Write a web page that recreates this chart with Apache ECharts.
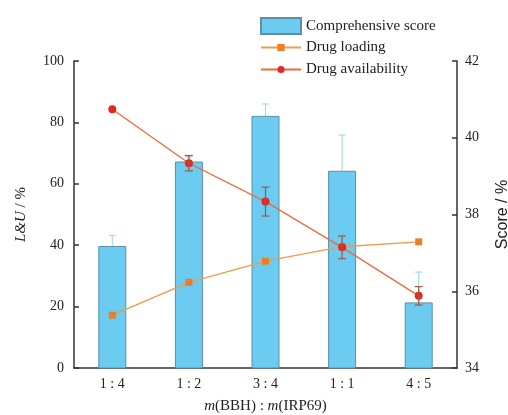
<!DOCTYPE html>
<html><head><meta charset="utf-8">
<script src="https://cdn.jsdelivr.net/npm/echarts@6/dist/echarts.min.js"></script>
<style>html,body{margin:0;padding:0;background:#fff}#c{width:508px;height:415px}</style>
</head><body><div id="c"></div>
<script>
const categories = ['1 : 4', '1 : 2', '3 : 4', '1 : 1', '4 : 5'];
const scoreValues = [37.18, 39.38, 40.57, 39.14, 35.71];
const scoreErrUp = [0.27, 0.12, 0.31, 0.93, 0.79];
const loadingValues = [17.2, 27.9, 34.8, 39.5, 41.1];
const availabilityValues = [84.3, 66.7, 54.2, 39.3, 23.5];
const availabilityErr = [0, 2.5, 4.7, 3.7, 3.0];
const leftTicks = [0, 20, 40, 60, 80, 100];
const rightTicks = [34, 36, 38, 40, 42];

const serif = '"Liberation Serif", "DejaVu Serif", serif';
const chart = echarts.init(document.getElementById('c'));

function errItem(color, capW, upOnly) {
  return function (params, api) {
    const x = api.value(0);
    const lo = api.value(1), hi = api.value(2);
    const pHi = api.coord([x, hi]);
    const pLo = api.coord([x, lo]);
    const st = { stroke: color, lineWidth: 1.2 };
    const children = [
      { type: 'line', shape: { x1: pHi[0], y1: pHi[1], x2: pLo[0], y2: pLo[1] }, style: st },
      { type: 'line', shape: { x1: pHi[0] - capW / 2, y1: pHi[1], x2: pHi[0] + capW / 2, y2: pHi[1] }, style: st }
    ];
    if (!upOnly) children.push({ type: 'line', shape: { x1: pLo[0] - capW / 2, y1: pLo[1], x2: pLo[0] + capW / 2, y2: pLo[1] }, style: st });
    return { type: 'group', children: children };
  };
}

const scoreErrData = categories.map((c, i) => [i, scoreValues[i], scoreValues[i] + scoreErrUp[i]]);
const availErrData = categories.map((c, i) => [i, availabilityValues[i] - availabilityErr[i], availabilityValues[i] + availabilityErr[i]]).filter((d, i) => availabilityErr[i] > 0);

const legendText = { fontFamily: serif, fontSize: 15, color: '#222' };

chart.setOption({
  animation: false,
  textStyle: { fontFamily: serif },
  legend: [
    {
      orient: 'vertical', left: 255, top: 12, itemWidth: 40, itemHeight: 16,
      textStyle: legendText,
      data: [{ name: 'Comprehensive score', icon: 'rect' }]
    },
    {
      orient: 'vertical', left: 255, top: 35, itemGap: 7, itemWidth: 40, itemHeight: 9,
      textStyle: legendText,
      data: [{ name: 'Drug loading' }, { name: 'Drug availability' }]
    }
  ],
  grid: { left: 74, right: 51, top: 61, bottom: 47, containLabel: false, outerBoundsMode: 'none' },
  xAxis: {
    type: 'category', data: categories, boundaryGap: true,
    axisLine: { lineStyle: { color: '#333', width: 1.5 } },
    axisTick: { show: false },
    axisLabel: { fontFamily: serif, fontSize: 14, color: '#222', margin: 9 },
    name: '{i|m}(BBH) : {i|m}(IRP69)', nameLocation: 'middle', nameGap: 31,
    nameTextStyle: { fontFamily: serif, fontSize: 15, color: '#222', rich: { i: { fontStyle: 'italic', fontFamily: serif, fontSize: 15, color: '#222' } } }
  },
  yAxis: [
    {
      type: 'value', min: leftTicks[0], max: leftTicks[leftTicks.length - 1], interval: 20, position: 'left',
      axisLine: { show: true, lineStyle: { color: '#333', width: 1.5 } },
      axisTick: { show: true, inside: true, length: 5, lineStyle: { color: '#333', width: 1.5 } },
      axisLabel: { fontFamily: serif, fontSize: 14, color: '#222', margin: 10 },
      splitLine: { show: false },
      name: '{i|L&U} / %', nameLocation: 'middle', nameGap: 45, nameRotate: 90,
      nameTextStyle: { fontFamily: serif, fontSize: 15, color: '#222', rich: { i: { fontStyle: 'italic', fontFamily: serif, fontSize: 15, color: '#222' } } }
    },
    {
      type: 'value', min: rightTicks[0], max: rightTicks[rightTicks.length - 1], interval: 2, position: 'right',
      axisLine: { show: true, lineStyle: { color: '#333', width: 1.5 } },
      axisTick: { show: true, inside: true, length: 5, lineStyle: { color: '#333', width: 1.5 } },
      axisLabel: { fontFamily: serif, fontSize: 14, color: '#222', margin: 8 },
      splitLine: { show: false },
      name: 'Score / %', nameLocation: 'middle', nameGap: 38, nameRotate: 90,
      nameTextStyle: { fontFamily: '"Liberation Sans", Arial, sans-serif', fontSize: 16, color: '#222' }
    }
  ],
  series: [
    {
      name: 'Comprehensive score', type: 'bar', yAxisIndex: 1, data: scoreValues, barWidth: 28,
      itemStyle: { color: '#6ccbf1', borderColor: '#5d8fa3', borderWidth: 1 }, z: 1
    },
    {
      type: 'custom', yAxisIndex: 1, renderItem: errItem('#a8dbf1', 7, true), data: scoreErrData, z: 2,
      encode: { x: 0, y: [1, 2] }
    },
    {
      name: 'Drug loading', type: 'line', yAxisIndex: 0, data: loadingValues,
      symbol: 'rect', symbolSize: 7,
      lineStyle: { color: '#f19a4a', width: 1.3 },
      itemStyle: { color: '#ec7f22' }, z: 3
    },
    {
      name: 'Drug availability', type: 'line', yAxisIndex: 0, data: availabilityValues,
      symbol: 'circle', symbolSize: 8,
      lineStyle: { color: '#ee6a3e', width: 1.3 },
      itemStyle: { color: '#e3291e' }, z: 4
    },
    {
      type: 'custom', yAxisIndex: 0, renderItem: errItem('#a5553f', 8, false), data: availErrData, z: 5,
      encode: { x: 0, y: [1, 2] }
    }
  ]
});
</script></body></html>
